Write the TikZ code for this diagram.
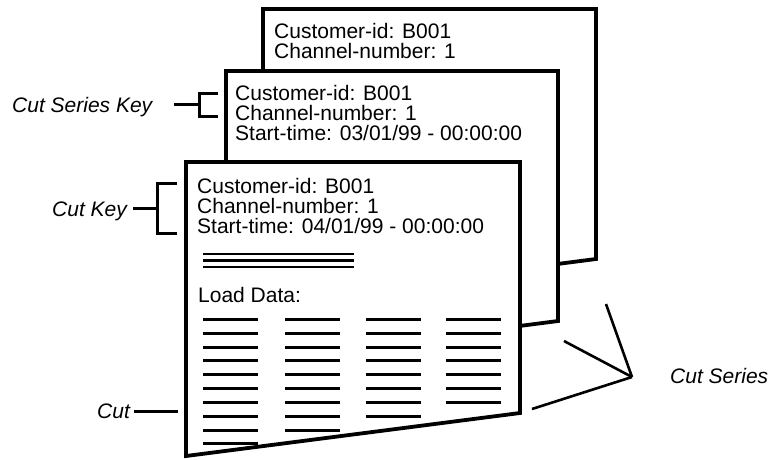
\documentclass[tikz,border=0pt]{standalone}
\usepackage{fontspec}
\setmainfont{Liberation Sans}
\begin{document}
\begin{tikzpicture}[x=1pt,y=-1pt,
  page/.style={draw=black, fill=white, line width=3.8pt, line join=miter},
  txt/.style={inner sep=0pt, anchor=base west, font=\fontsize{21}{20}\selectfont},
  lbl/.style={inner sep=0pt, anchor=base west, font=\fontsize{21}{20}\selectfont\itshape},
  brk/.style={line width=3pt, line join=miter},
  datarule/.style={line width=3pt},
  keyrule/.style={line width=2.6pt},
  seriesline/.style={line width=2.6pt}]
\fill[white] (0,0) rectangle (776,459);
\useasboundingbox (0,0) rectangle (776,459);

% back page
\draw[page] (263,9) -- (596,9) -- (596,259) -- (263,302) -- cycle;
\node[txt] (b1) at (274,38) {Customer-id: B001};
\node[txt] (b2) at (274,58) {Channel-number: 1};

% middle page
\draw[page] (226,71) -- (558,71) -- (558,321) -- (226,364) -- cycle;
\node[txt] (m1) at (235,100) {Customer-id: B001};
\node[txt] (m2) at (235,120) {Channel-number: 1};
\node[txt] (m3) at (235,140) {Start-time: 03/01/99 - 00:00:00};

% front page
\draw[page] (186,162) -- (520,162) -- (520,413) -- (186,456) -- cycle;
\node[txt] (f1) at (197,193) {Customer-id: B001};
\node[txt] (f2) at (197,213) {Channel-number: 1};
\node[txt] (f3) at (197,233) {Start-time: 04/01/99 - 00:00:00};

\foreach \y in {254,260.5,267} \draw[keyrule] (203,\y) -- (354,\y);

\node[txt] (ld) at (198,302) {Load Data:};

\foreach \x/\n in {203/10,285/9,366/8,446/7}{
  \foreach \i in {1,...,\n}{
    \draw[datarule] (\x,{319.3+13.85*(\i-1)}) -- ++(54.5,0);
  }
}

% labels
\node[lbl] (csk) at (12,112) {Cut Series Key};
\node[lbl] (ck) at (52,216) {Cut Key};
\node[lbl] (cut) at (97,418.5) {Cut};
\node[lbl] (cs) at (670,383) {Cut Series};

% brackets
\coordinate (s1) at (174,104);
\coordinate (k1) at (199,104);
\draw[brk] (s1) -- (k1);
\draw[brk] (218,93) -- (199,93) -- (199,116) -- (218,116);

\coordinate (s2) at (133,208);
\coordinate (k2) at (157,208);
\draw[brk] (s2) -- (k2);
\draw[brk] (177,183) -- (157,183) -- (157,233) -- (177,233);

\coordinate (s3) at (134,411);
\coordinate (k3) at (178,411);
\draw[brk] (s3) -- (k3);

% cut series lines
\coordinate (cv) at (632,377);
\coordinate (e1) at (606,304);
\coordinate (e2) at (564,341);
\coordinate (e3) at (532,409);
\draw[seriesline] (e1) -- (cv);
\draw[seriesline] (e2) -- (cv);
\draw[seriesline] (e3) -- (cv);
\end{tikzpicture}
\end{document}
